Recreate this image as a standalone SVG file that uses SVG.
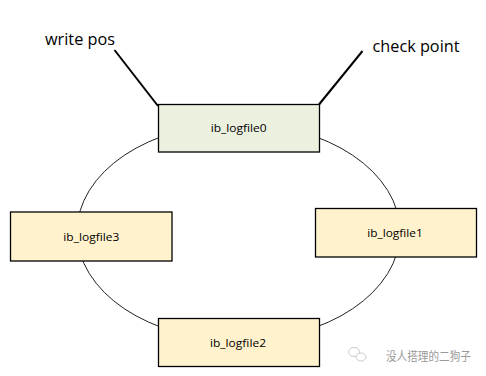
<svg xmlns="http://www.w3.org/2000/svg" width="486" height="376" viewBox="0 0 486 376">
<style>
.box{stroke:#000;stroke-width:1.3}
.g{fill:#EBF1DE}
.y{fill:#FFF2CC}
.lbl{font-family:"Open Sans","Liberation Sans",sans-serif;font-size:11px;fill:#000;text-anchor:middle}
.big{font-family:"Open Sans","Liberation Sans",sans-serif;font-size:16px;fill:#000}
.ptr{stroke:#000;stroke-width:2;fill:none}
</style>
<rect width="486" height="376" fill="#fff"/>
<g id="connectors">
<ellipse cx="238.5" cy="232" rx="161.5" ry="108.5" fill="none" stroke="#222" stroke-width="1"/>
<line class="ptr" x1="114.5" y1="50" x2="158" y2="106"/>
<line class="ptr" x1="362.5" y1="51" x2="319" y2="104.5"/>
</g>
<g id="label-write-pos"><text class="big" x="45" y="44.5" textLength="70" lengthAdjust="spacingAndGlyphs">write pos</text></g>
<g id="label-check-point"><text class="big" x="372.5" y="51.5" textLength="87" lengthAdjust="spacingAndGlyphs">check point</text></g>
<g id="ib_logfile0">
<rect class="box g" x="158.5" y="104.5" width="161" height="47.5"/>
<text class="lbl" x="238.7" y="131.5" textLength="56" lengthAdjust="spacingAndGlyphs">ib_logfile0</text>
</g>
<g id="ib_logfile1">
<rect class="box y" x="315.5" y="208.5" width="161" height="48.5"/>
<text class="lbl" x="395" y="236.5" textLength="55.5" lengthAdjust="spacingAndGlyphs">ib_logfile1</text>
</g>
<g id="ib_logfile2">
<rect class="box y" x="158.5" y="318.5" width="161" height="48"/>
<text class="lbl" x="238" y="346.5" textLength="56" lengthAdjust="spacingAndGlyphs">ib_logfile2</text>
</g>
<g id="ib_logfile3">
<rect class="box y" x="10.5" y="212" width="161.5" height="49"/>
<text class="lbl" x="91.3" y="241" textLength="56" lengthAdjust="spacingAndGlyphs">ib_logfile3</text>
</g>
<g id="watermark">
<ellipse cx="354" cy="352" rx="5.5" ry="4.5" fill="none" stroke="#ccc" stroke-width="1"/>
<ellipse cx="361" cy="357" rx="5" ry="4" fill="#fff" stroke="#ccc" stroke-width="1"/>
<text x="386" y="360.5" font-family="'Noto Sans CJK SC',sans-serif" font-size="12" fill="#999" textLength="85" lengthAdjust="spacingAndGlyphs">没人搭理的二狗子</text>
</g>
</svg>
